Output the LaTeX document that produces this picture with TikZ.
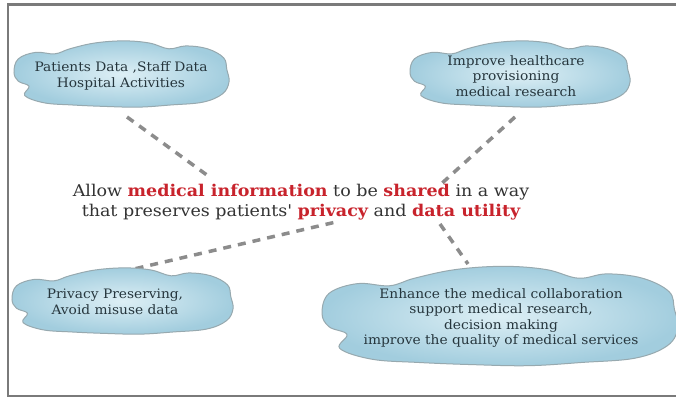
\documentclass[tikz,border=0pt]{standalone}
\usepackage{fontspec}
\setmainfont{DejaVu Serif}
\newfontfamily\cloudfont[FakeStretch=1.06]{DejaVu Serif}
\newfontfamily\headfont[FakeStretch=1.08]{DejaVu Serif}
\definecolor{cloudin}{HTML}{DDEFF5}
\definecolor{cloudout}{HTML}{A2CDDE}
\definecolor{cloudline}{HTML}{97A9AF}
\definecolor{cloudtext}{HTML}{26363D}
\definecolor{keyred}{HTML}{C8232C}
\definecolor{bodytext}{HTML}{333333}
\definecolor{linkgray}{HTML}{8C8C8C}
\definecolor{framegray}{HTML}{7A7A7A}
\newcommand{\key}[1]{\textbf{\color{keyred}#1}}
% a soft cloud outline centred at (#1,#2) with half-width #3 and half-height #4
\newcommand{\drawcloud}[4]{%
  \path[blob, shift={(#1,#2)}, xscale=#3, yscale=#4]
    plot[smooth cycle, tension=0.62] coordinates {
      (-1.00,-0.05) (-0.96,-0.42) (-0.80,-0.60) (-0.62,-0.56) (-0.48,-0.70)
      (-0.25,-0.86) (0.02,-0.92) (0.26,-0.86) (0.44,-0.70) (0.60,-0.78)
      (0.80,-0.70) (0.95,-0.45) (0.98,-0.12) (1.00,0.22) (0.94,0.55)
      (0.76,0.78) (0.46,0.86) (0.16,0.92) (-0.16,0.90) (-0.46,0.86)
      (-0.72,0.80) (-0.90,0.60) (-0.86,0.34) (-0.96,0.20)};}
\begin{document}
\begin{tikzpicture}[x=1pt,y=-1pt,
  blob/.style={draw=cloudline, line width=1pt, inner color=cloudin, outer color=cloudout},
  idea/.style={align=center, text=cloudtext, font=\cloudfont\fontsize{13}{15.5}\selectfont, inner sep=0pt},
  link/.style={draw=linkgray, line width=3.5pt, dash pattern=on 8pt off 7pt},
  headline/.style={align=center, text=bodytext, font=\headfont\fontsize{16.2}{20}\selectfont, inner sep=0pt},
]
\useasboundingbox (0,0) rectangle (676,398);
\fill[white] (0,0) rectangle (676,398);
\draw[framegray, line width=2.5pt] (676,4.5) -- (8,4.5) -- (8,396) -- (676,396);

% connector ends
\coordinate (tl-a) at (127,117);
\coordinate (tl-b) at (211,178);
\coordinate (tr-a) at (515,117);
\coordinate (tr-b) at (440,185);
\coordinate (bl-a) at (121,272);
\coordinate (bl-b) at (336,222);
\coordinate (br-a) at (468,264);
\coordinate (br-b) at (440,224);

\draw[link] (tl-a) -- (tl-b);
\draw[link] (tr-a) -- (tr-b);
\draw[link] (bl-a) -- (bl-b);
\draw[link] (br-b) -- (br-a);

% clouds
\drawcloud{121.5}{74}{107.5}{36}
\drawcloud{520}{74}{110}{36}
\drawcloud{122.5}{301}{110.5}{36}
\drawcloud{500}{316}{178}{54}

\node[idea] (tl) at (121,76) {Patients Data ,Staff Data\\Hospital Activities};
\node[idea] (tr) at (516,76) {Improve healthcare\\provisioning\\medical research};
\node[idea] (bl) at (115,302) {Privacy Preserving,\\Avoid misuse data};
\node[idea] (br) at (501,318) {Enhance the medical collaboration\\support medical research,\\decision making\\improve the quality of medical services};

% central statement
\node[headline] (goal) at (301,202)
  {Allow \key{medical information} to be \key{shared} in a way\\
   that preserves patients' \key{privacy} and \key{data utility}};
\end{tikzpicture}
\end{document}
